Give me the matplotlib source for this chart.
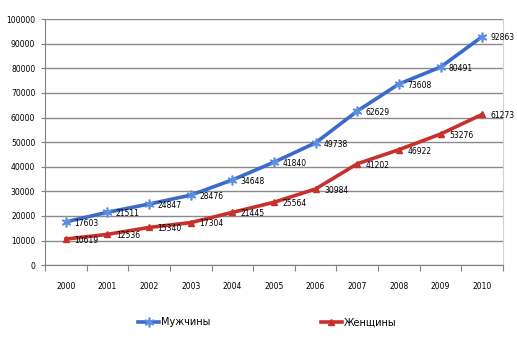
import numpy as np
import matplotlib
matplotlib.use("Agg")
import matplotlib.pyplot as plt
from matplotlib.ticker import FixedLocator, NullFormatter

# data
years = ["2000", "2001", "2002", "2003", "2004", "2005",
         "2006", "2007", "2008", "2009", "2010"]
men = [17603, 21511, 24847, 28476, 34648, 41840, 49738, 62629, 73608, 80491, 92863]
women = [10619, 12536, 15340, 17304, 21445, 25564, 30984, 41202, 46922, 53276, 61273]
yticks = list(range(0, 100001, 10000))

blue = "#3A6BCB"
red = "#C8302C"

fig = plt.figure(figsize=(5.17, 3.40), dpi=100)
ax = fig.add_axes([0.087, 0.22, 0.886, 0.724])

x = np.arange(len(years))
ax.plot(x, men, color=blue, lw=2.6, marker=(6, 2, 0), ms=7,
        mec="#5C8FE0", mew=1.2, label="Мужчины", zorder=3)
ax.plot(x, women, color=red, lw=2.6, marker="^", ms=5,
        mfc=red, mec=red, label="Женщины", zorder=3)

# value labels to the right of each point
for xi, v in zip(x, men):
    ax.annotate(str(v), (xi, v), xytext=(6, -1), textcoords="offset points",
                fontsize=5.5, va="center", ha="left")
for xi, v in zip(x, women):
    ax.annotate(str(v), (xi, v), xytext=(6, -1), textcoords="offset points",
                fontsize=5.5, va="center", ha="left")

ax.set_xlim(-0.5, 10.5)
ax.set_ylim(0, 100000)
ax.set_yticks(yticks)
ax.set_yticklabels([str(t) for t in yticks], fontsize=5.5)
ax.yaxis.grid(True, color="#8A8A8A", lw=1.0)
ax.set_axisbelow(True)

# category ticks between years, labels in the middle
ax.xaxis.set_major_locator(FixedLocator(np.arange(-0.5, 11, 1)))
ax.xaxis.set_major_formatter(NullFormatter())
ax.xaxis.set_minor_locator(FixedLocator(x))
ax.set_xticklabels(years, minor=True, fontsize=5.5)
ax.tick_params(axis="x", which="major", length=4, color="#808080")
ax.tick_params(axis="x", which="minor", length=0, pad=12)
ax.tick_params(axis="y", length=3, color="#808080", pad=4)

ax.spines["top"].set_visible(False)
ax.spines["right"].set_color("#C8D2E2")
ax.spines["left"].set_color("#808080")
ax.spines["bottom"].set_color("#808080")

fig.legend(loc="center", bbox_to_anchor=(0.517, 0.052), ncol=2, frameon=False,
           fontsize=7, columnspacing=11.3, handlelength=2.2, handletextpad=0.2)

fig.savefig("out.png", dpi=100)
